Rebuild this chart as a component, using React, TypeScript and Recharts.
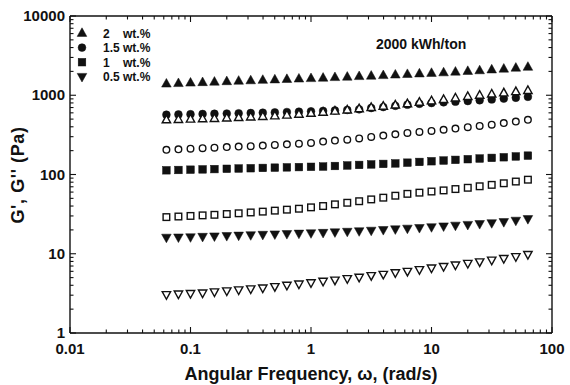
import { ScatterChart, Scatter, XAxis, YAxis } from 'recharts'

// angular frequency, rad/s (10 points per decade)
const freq = [
  0.0631, 0.0794, 0.1, 0.126, 0.158, 0.2, 0.251, 0.316, 0.398, 0.501, 0.631, 0.794, 1, 1.26, 1.58, 2,
  2.51, 3.16, 3.98, 5.01, 6.31, 7.94, 10, 12.6, 15.8, 20, 25.1, 31.6, 39.8, 50.1, 63.1,
]

// G' (filled) and G'' (open), Pa
const gp2 = [
  1400, 1420, 1440, 1460, 1480, 1500, 1520, 1540, 1560, 1580, 1600, 1620, 1640, 1660, 1690, 1710,
  1740, 1760, 1790, 1820, 1850, 1880, 1910, 1940, 1980, 2020, 2060, 2110, 2160, 2220, 2280,
]
const gpp2 = [
  490, 495, 500, 505, 510, 516, 523, 531, 540, 550, 562, 576, 592, 610, 630, 652, 676, 700, 726, 752,
  780, 815, 850, 885, 925, 965, 1000, 1035, 1070, 1110, 1150,
]
const gp15 = [
  568, 572, 576, 580, 584, 588, 592, 597, 602, 608, 614, 620, 627, 634, 642, 652, 664, 690, 710, 735,
  760, 780, 798, 815, 830, 845, 865, 885, 907, 930, 955,
]
const gpp15 = [
  205, 208, 212, 215, 218, 222, 225, 228, 232, 236, 240, 245, 250, 260, 268, 275, 285, 298, 310, 322,
  335, 345, 355, 367, 380, 395, 410, 425, 445, 465, 490,
]
const gp1 = [
  113, 114, 115, 116, 117, 118, 119, 120, 121, 122, 123, 124, 125, 126, 128, 130, 132, 134, 136, 138,
  141, 144, 147, 150, 153, 156, 159, 162, 165, 169, 173,
]
const gpp1 = [
  29, 29.5, 30, 30.5, 31, 31.7, 32.4, 33.2, 34, 35, 36, 37, 38.5, 40, 42, 44, 46, 48.5, 51, 54, 57,
  59, 61, 63, 65.5, 68, 71, 74, 77.5, 81.5, 86,
]
const gp05 = [
  16, 16.1, 16.2, 16.4, 16.6, 16.8, 17, 17.2, 17.4, 17.6, 17.8, 18, 18.2, 18.4, 18.7, 19, 19.3, 19.6,
  20, 20.4, 20.8, 21.2, 21.7, 22.2, 22.7, 23.2, 23.8, 24.4, 25.2, 26.2, 27.5,
]
const gpp05 = [
  3.05, 3.1, 3.15, 3.2, 3.3, 3.4, 3.5, 3.6, 3.7, 3.85, 4.0, 4.15, 4.3, 4.5, 4.65, 4.85, 5.05, 5.3,
  5.5, 5.75, 6.0, 6.3, 6.6, 6.9, 7.2, 7.55, 7.9, 8.3, 8.7, 9.2, 9.8,
]

const xTicks = [
  0.01, 0.02, 0.03, 0.04, 0.05, 0.06, 0.07, 0.08, 0.09, 0.1, 0.2, 0.3, 0.4, 0.5, 0.6, 0.7, 0.8, 0.9,
  1, 2, 3, 4, 5, 6, 7, 8, 9, 10, 20, 30, 40, 50, 60, 70, 80, 90, 100,
]
const yTicks = [
  1, 2, 3, 4, 5, 6, 7, 8, 9, 10, 20, 30, 40, 50, 60, 70, 80, 90, 100, 200, 300, 400, 500, 600, 700,
  800, 900, 1000, 2000, 3000, 4000, 5000, 6000, 7000, 8000, 9000, 10000,
]

const legendRows = [
  { kind: 'up', num: '2' },
  { kind: 'circle', num: '1.5' },
  { kind: 'square', num: '1' },
  { kind: 'down', num: '0.5' },
]

const FONT = '"Liberation Sans", Arial, sans-serif'
const INK = '#111'

const toPts = (ys: number[]) => freq.map((x, i) => ({ x, y: ys[i] }))

function isMajor(v: number) {
  const l = Math.log10(v)
  return Math.abs(l - Math.round(l)) < 1e-6
}

function Marker({ cx, cy, kind, filled }: any) {
  const fill = filled ? INK : '#fff'
  const sw = filled ? 0.5 : 1.4
  if (kind === 'circle') {
    return <circle cx={cx} cy={cy} r={filled ? 3.9 : 3.3} fill={fill} stroke={INK} strokeWidth={sw} />
  }
  if (kind === 'square') {
    const h = filled ? 3.8 : 3.3
    return <rect x={cx - h} y={cy - h} width={h * 2} height={h * 2} fill={fill} stroke={INK} strokeWidth={sw} />
  }
  const w = filled ? 4.8 : 4.2
  const t = filled ? 5.2 : 4.6
  const b = filled ? 3.4 : 3.0
  const pts =
    kind === 'up'
      ? `${cx},${cy - t} ${cx - w},${cy + b} ${cx + w},${cy + b}`
      : `${cx},${cy + t} ${cx - w},${cy - b} ${cx + w},${cy - b}`
  return <polygon points={pts} fill={fill} stroke={INK} strokeWidth={sw} strokeLinejoin="miter" />
}

function BottomTick({ x, y, payload }: any) {
  const major = isMajor(payload.value)
  return (
    <g>
      <line x1={x} x2={x} y1={y} y2={y - (major ? 6 : 3.5)} stroke={INK} strokeWidth={1.1} />
      {major && (
        <text x={x} y={y + 21} textAnchor="middle" fontFamily={FONT} fontWeight="bold" fontSize={15} fill={INK}>
          {String(payload.value)}
        </text>
      )}
    </g>
  )
}

function TopTick({ x, y, payload }: any) {
  const major = isMajor(payload.value)
  return <line x1={x} x2={x} y1={y} y2={y + (major ? 6 : 3.5)} stroke={INK} strokeWidth={1.1} />
}

function LeftTick({ x, y, payload }: any) {
  const major = isMajor(payload.value)
  return (
    <g>
      <line x1={x} x2={x + (major ? 6 : 3.5)} y1={y} y2={y} stroke={INK} strokeWidth={1.1} />
      {major && (
        <text x={x - 5} y={y + 5} textAnchor="end" fontFamily={FONT} fontWeight="bold" fontSize={15} fill={INK}>
          {String(payload.value)}
        </text>
      )}
    </g>
  )
}

function RightTick({ x, y, payload }: any) {
  const major = isMajor(payload.value)
  return <line x1={x} x2={x - (major ? 6 : 3.5)} y1={y} y2={y} stroke={INK} strokeWidth={1.1} />
}

const series = [
  { data: gp2, kind: 'up', filled: true },
  { data: gp15, kind: 'circle', filled: true },
  { data: gp1, kind: 'square', filled: true },
  { data: gp05, kind: 'down', filled: true },
  { data: gpp2, kind: 'up', filled: false },
  { data: gpp15, kind: 'circle', filled: false },
  { data: gpp1, kind: 'square', filled: false },
  { data: gpp05, kind: 'down', filled: false },
]

const axisLine = { stroke: INK, strokeWidth: 1.4 }

export default function App() {
  return (
    <div style={{ position: 'absolute', left: 0, top: 0, background: '#fff' }}>
      <ScatterChart width={570} height={385} margin={{ top: 15, right: 17, bottom: 22, left: 10 }}>
        <XAxis
          xAxisId="b"
          dataKey="x"
          type="number"
          scale="log"
          domain={[0.01, 100]}
          ticks={xTicks}
          interval={0}
          height={30}
          tickSize={0}
          tickMargin={0}
          tickLine={false}
          axisLine={axisLine}
          tick={<BottomTick />}
          allowDataOverflow
        />
        <XAxis
          xAxisId="t"
          orientation="top"
          dataKey="x"
          type="number"
          scale="log"
          domain={[0.01, 100]}
          ticks={xTicks}
          interval={0}
          height={1}
          tickSize={0}
          tickMargin={0}
          tickLine={false}
          axisLine={axisLine}
          tick={<TopTick />}
          allowDataOverflow
        />
        <YAxis
          yAxisId="l"
          dataKey="y"
          type="number"
          scale="log"
          domain={[1, 10000]}
          ticks={yTicks}
          interval={0}
          width={60}
          tickSize={0}
          tickMargin={0}
          tickLine={false}
          axisLine={axisLine}
          tick={<LeftTick />}
          allowDataOverflow
        />
        <YAxis
          yAxisId="r"
          orientation="right"
          dataKey="y"
          type="number"
          scale="log"
          domain={[1, 10000]}
          ticks={yTicks}
          interval={0}
          width={1}
          tickSize={0}
          tickMargin={0}
          tickLine={false}
          axisLine={axisLine}
          tick={<RightTick />}
          allowDataOverflow
        />
        {series.map((s, i) => (
          <Scatter
            key={i}
            xAxisId="b"
            yAxisId="l"
            data={toPts(s.data)}
            isAnimationActive={false}
            shape={(p: any) => <Marker cx={p.cx} cy={p.cy} kind={s.kind} filled={s.filled} />}
          />
        ))}
        {/* hidden copy so the mirrored top/right axes get a domain */}
        <Scatter
          xAxisId="t"
          yAxisId="r"
          data={toPts(gp2)}
          isAnimationActive={false}
          shape={() => <g />}
        />
        <g>
          {legendRows.map((r, i) => (
            <g key={r.num}>
              <Marker cx={82} cy={33 + i * 14.6} kind={r.kind} filled />
              <text x={103} y={37.5 + i * 14.6} fontFamily={FONT} fontWeight="bold" fontSize={12} fill={INK}>
                {r.num}
              </text>
              <text x={123} y={37.5 + i * 14.6} fontFamily={FONT} fontWeight="bold" fontSize={12} fill={INK}>
                wt.%
              </text>
            </g>
          ))}
        </g>
        <text x={376} y={48.5} fontFamily={FONT} fontWeight="bold" fontSize={14} fill={INK}>
          2000 kWh/ton
        </text>
        <text x={311} y={380} textAnchor="middle" fontFamily={FONT} fontWeight="bold" fontSize={18} fill={INK}>
          Angular Frequency, ω, (rad/s)
        </text>
        <text
          transform="translate(24,175) rotate(-90)"
          textAnchor="middle"
          fontFamily={FONT}
          fontWeight="bold"
          fontSize={18}
          letterSpacing={0.6}
          fill={INK}
        >
          G', G'' (Pa)
        </text>
      </ScatterChart>
    </div>
  )
}
